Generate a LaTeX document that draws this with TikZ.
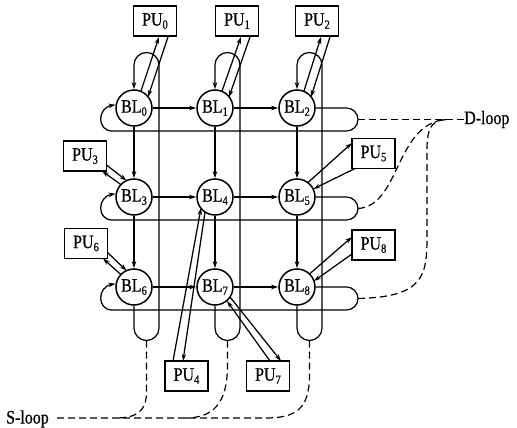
\documentclass[tikz,border=0pt]{standalone}
\usepackage{fontspec}
\setmainfont{Liberation Serif}[FakeStretch=0.84,FakeBold=0.6]
\usetikzlibrary{calc,arrows.meta}
\newcommand\ssub[1]{\raisebox{-0.35ex}{\fontsize{12.5}{12.5}\selectfont #1}}
\newcommand\lblfont{\fontsize{19}{21}\selectfont}
\begin{document}
\begin{tikzpicture}[x=1pt,y=-1pt,
  ln/.style={line width=1.25pt},
  arr/.style={ln,-{Stealth[length=7pt,width=4.5pt]}},
  blnode/.style={circle,draw,line width=1.5pt,minimum size=36pt,inner sep=0pt,font=\lblfont},
  punode/.style={rectangle,draw,line width=1.9pt,minimum width=43pt,minimum height=30pt,inner sep=0pt,font=\lblfont},
  dsh/.style={line width=1.2pt,dash pattern=on 7pt off 4pt},
  lbl/.style={inner sep=0pt,font=\lblfont}]
\useasboundingbox (0,0) rectangle (517,428);

% BL nodes
\node[blnode] (BL0) at (134,108) {BL\ssub{0}};
\node[blnode] (BL1) at (215,108) {BL\ssub{1}};
\node[blnode] (BL2) at (297,108) {BL\ssub{2}};
\node[blnode] (BL3) at (134,197) {BL\ssub{3}};
\node[blnode] (BL4) at (215,197) {BL\ssub{4}};
\node[blnode] (BL5) at (297,197) {BL\ssub{5}};
\node[blnode] (BL6) at (134,287) {BL\ssub{6}};
\node[blnode] (BL7) at (215,287) {BL\ssub{7}};
\node[blnode] (BL8) at (297,287) {BL\ssub{8}};

% PU nodes
\node[punode] (PU0) at (155,21) {PU\ssub{0}};
\node[punode] (PU1) at (237,21) {PU\ssub{1}};
\node[punode] (PU2) at (317,21) {PU\ssub{2}};
\node[punode] (PU3) at (85,156) {PU\ssub{3}};
\node[punode] (PU6) at (86,243.5) {PU\ssub{6}};
\node[punode] (PU5) at (373.5,153.5) {PU\ssub{5}};
\node[punode] (PU8) at (373.5,245) {PU\ssub{8}};
\node[punode] (PU4) at (186.5,376) {PU\ssub{4}};
\node[punode] (PU7) at (268,376) {PU\ssub{7}};

% row links
\foreach \a/\b in {0/1,1/2,3/4,4/5,6/7,7/8}
  \draw[arr] (BL\a.east) -- (BL\b.west);
% column links
\foreach \a/\b in {0/3,3/6,1/4,4/7,2/5,5/8}
  \draw[arr] (BL\a.south) -- (BL\b.north);

% row loops
\foreach \a/\c/\r in {0/2/108,3/5/197,6/8/287}
  \draw[arr] (BL\c.east) -- (346.5,\r) arc[start angle=-90,end angle=90,radius=11.5]
    -- (112,\r+23) .. controls (97,\r+23) and (97,\r) .. (BL\a.170);

% column loops
\foreach \t/\m/\x in {0/6/134,1/7/215,2/8/297}
  \draw[arr] (BL\m.south) -- (\x,328) arc[start angle=180,end angle=0,radius=12.5]
    -- (\x+25,65) arc[start angle=0,end angle=-180,radius=12.5] -- (BL\t.north);

% top PU links
\foreach \k in {0,1,2}{
  \draw[arr] ($(BL\k)+(7,-17)$) -- ($(PU\k.south)+(4,0)$);
  \draw[arr] ($(PU\k.south)+(13,0)$) -- ($(BL\k)+(14,-11)$);
}
% left PU links
\foreach \k in {3,6}{
  \draw[arr] ($(PU\k)+(21.5,9)$) -- ($(BL\k)+(-7.5,-16.4)$);
  \draw[arr] ($(BL\k)+(-13.1,-12.4)$) -- ($(PU\k)+(17,15)$);
}
% right PU links
\draw[arr] ($(BL5)+(11,-14.5)$) -- ($(PU5)+(-21.5,-10.5)$);
\draw[arr] ($(PU5)+(-18.5,15)$) -- ($(BL5)+(16.2,-8)$);
\draw[arr] ($(BL8)+(12.5,-13)$) -- ($(PU8)+(-21.5,-8)$);
\draw[arr] ($(PU8)+(-21.5,9)$) -- ($(BL8)+(17,-6)$);
% bottom PU links
\draw[arr] ($(PU4)+(-13.5,-15)$) -- ($(BL4)+(-14,11)$);
\draw[arr] ($(BL4)+(-10,15)$) -- ($(PU4)+(-3.5,-15)$);
\draw[arr] ($(PU7)+(2,-15)$) -- ($(BL7)+(12,14)$);
\draw[arr] ($(BL7)+(15,10)$) -- ($(PU7)+(13,-15)$);

% D-loop
\coordinate (R0) at (358,119.5);
\coordinate (R1) at (358,208.5);
\coordinate (R2) at (358,298.5);
\node[lbl,anchor=west] (D) at (464,119.5) {D-loop};
\draw[dsh] (R0) -- (D.west);
\draw[dsh] (R1) .. controls (400,206) and (395,125) .. (445,119.5);
\draw[dsh] (R2) .. controls (425,297) and (427,275) .. (427,235) -- (427,150)
  .. controls (427,125) and (433,119.5) .. (450,119.5);

% S-loop
\coordinate (B0) at (146.5,340.5);
\coordinate (B1) at (227.5,340.5);
\coordinate (B2) at (309.5,340.5);
\node[lbl,anchor=west] (S) at (6,419) {S-loop};
\coordinate (Sd) at ($(S.east)+(6,-1)$);
\draw[dsh] (B2) -- (309.5,375) .. controls (309.5,410) and (295,418) .. (265,418) -- (Sd);
\draw[dsh] (B0) -- (146.5,392) .. controls (146.5,412) and (136,418) .. (115,418);
\draw[dsh] (B1) -- (227.5,365) .. controls (227.5,405) and (212,418) .. (185,418);
\end{tikzpicture}
\end{document}
